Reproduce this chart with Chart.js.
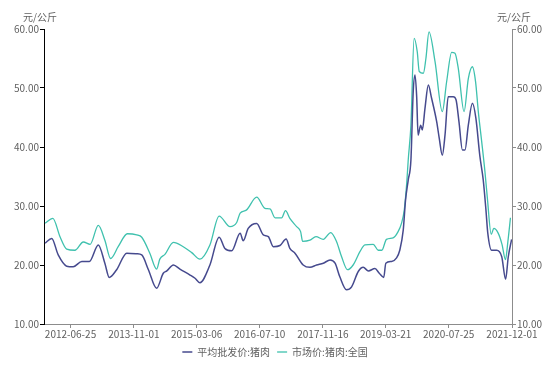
<!DOCTYPE html>
<html lang="zh">
  <head>
    <meta charset="UTF-8" />
    <title>猪肉价格</title>
    <style>
      body { margin: 0; background: #fff; }
    </style>
  </head>
  <body>
    <script src="https://cdn.jsdelivr.net/npm/chart.js"></script>
    <div class="chart" style="height: 367px; width: 550px">
      <canvas id="chart"></canvas>
    </div>

    <script>
      // 平均批发价:猪肉
      const wholesaleDates = [
        "2011-12-09", "2012-01-30", "2012-03-21", "2012-05-26", "2012-07-16", "2012-09-21",
        "2012-11-19", "2013-01-28", "2013-03-20", "2013-04-23", "2013-06-20", "2013-09-07",
        "2013-11-24", "2014-01-02", "2014-02-23", "2014-04-28", "2014-06-19", "2014-07-17",
        "2014-09-06", "2014-10-27", "2015-01-14", "2015-02-22", "2015-04-01", "2015-06-18",
        "2015-08-29", "2015-10-13", "2015-12-05", "2016-02-09", "2016-03-04", "2016-04-12",
        "2016-06-17", "2016-08-08", "2016-09-16", "2016-10-25", "2016-12-16", "2017-02-02",
        "2017-03-03", "2017-04-12", "2017-06-15", "2017-08-07", "2017-09-28", "2017-11-19",
        "2018-01-11", "2018-02-19", "2018-03-28", "2018-05-19", "2018-06-28", "2018-08-19",
        "2018-09-27", "2018-11-06", "2018-12-27", "2019-01-30", "2019-03-06", "2019-03-22",
        "2019-05-06", "2019-06-14", "2019-07-09", "2019-08-05", "2019-08-23", "2019-09-13",
        "2019-10-04", "2019-10-22", "2019-11-05", "2019-11-18", "2019-11-29", "2019-12-19",
        "2020-01-01", "2020-01-22", "2020-02-17", "2020-03-13", "2020-04-22", "2020-05-12",
        "2020-06-05", "2020-06-26", "2020-07-21", "2020-08-29", "2020-09-20", "2020-10-13",
        "2020-11-09", "2020-11-29", "2020-12-25", "2021-01-26", "2021-02-22", "2021-03-25",
        "2021-04-20", "2021-05-11", "2021-05-26", "2021-06-25", "2021-08-03", "2021-09-12",
        "2021-10-12", "2021-11-02", "2021-11-28",
      ];
      const wholesaleValues = [
        23.7, 24.5, 21.7, 19.8, 19.7, 20.6,
        20.6, 23.4, 20.3, 17.9, 19.2, 22.0,
        21.9, 21.7, 19.2, 16.05, 18.6, 19.0,
        20.0, 19.3, 18.3, 17.75, 17.0, 20.0,
        24.7, 22.8, 22.4, 25.4, 24.1, 26.2,
        27.05, 25.1, 24.8, 23.1, 23.3, 24.4,
        22.8, 22.0, 20.0, 19.6, 20.0, 20.3,
        20.85, 20.3, 18.0, 15.8, 16.3, 18.9,
        19.6, 19.0, 19.4, 18.6, 17.9, 20.3,
        20.6, 21.2, 22.5, 25.9, 31.0, 34.4,
        37.8, 49.4, 52.2, 48.5, 42.0, 43.7,
        42.9, 46.6, 50.5, 48.3, 44.3, 41.5,
        38.6, 42.0, 48.5, 48.5, 48.0, 44.3,
        39.5, 39.5, 43.7, 47.4, 44.9, 38.5,
        34.5, 29.5, 25.4, 22.5, 22.5, 21.4,
        17.6, 21.4, 24.35,
      ];

      // 市场价:猪肉:全国
      const marketDates = [
        "2011-12-09", "2012-02-08", "2012-04-04", "2012-05-26", "2012-07-29", "2012-10-03",
        "2012-11-25", "2013-01-28", "2013-03-20", "2013-05-04", "2013-07-02", "2013-09-12",
        "2013-11-24", "2014-01-02", "2014-03-06", "2014-04-28", "2014-05-23", "2014-07-02",
        "2014-09-06", "2014-11-22", "2015-01-27", "2015-04-01", "2015-06-18", "2015-08-29",
        "2015-11-22", "2016-01-13", "2016-02-09", "2016-03-28", "2016-06-17", "2016-08-21",
        "2016-09-29", "2016-11-08", "2016-12-29", "2017-01-28", "2017-03-03", "2017-04-25",
        "2017-05-26", "2017-06-11", "2017-08-07", "2017-09-23", "2017-11-19", "2018-01-16",
        "2018-03-02", "2018-04-11", "2018-05-27", "2018-07-10", "2018-09-02", "2018-10-10",
        "2018-12-14", "2019-01-22", "2019-02-19", "2019-03-27", "2019-05-18", "2019-06-26",
        "2019-07-23", "2019-08-13", "2019-09-01", "2019-09-13", "2019-10-04", "2019-10-29",
        "2019-11-22", "2019-12-08", "2020-01-09", "2020-01-29", "2020-02-22", "2020-04-09",
        "2020-06-05", "2020-07-09", "2020-08-17", "2020-09-12", "2020-10-08", "2020-11-22",
        "2020-12-25", "2021-01-26", "2021-02-20", "2021-03-13", "2021-04-08", "2021-05-03",
        "2021-05-22", "2021-06-22", "2021-07-12", "2021-08-15", "2021-09-14", "2021-10-11",
        "2021-10-30", "2021-11-19",
      ];
      const marketValues = [
        27.1, 27.9, 24.8, 22.7, 22.5, 23.9,
        23.5, 26.7, 24.2, 21.1, 23.1, 25.3,
        25.1, 24.7, 22.0, 19.3, 21.0, 21.8,
        23.85, 23.1, 22.1, 21.0, 23.4, 28.3,
        26.5, 27.2, 28.8, 29.3, 31.5, 29.6,
        29.5, 28.0, 28.0, 29.2, 27.9, 26.5,
        25.65, 24.0, 24.2, 24.8, 24.35, 25.5,
        24.0, 21.4, 19.2, 20.0, 22.3, 23.4,
        23.5, 22.5, 22.5, 24.35, 24.6, 25.65,
        27.1, 29.3, 33.8, 37.8, 43.7, 58.4,
        56.2, 52.8, 52.5, 55.0, 59.5, 54.5,
        46.0, 51.1, 56.05, 55.9, 53.3, 46.0,
        51.6, 53.6, 51.0, 46.0, 41.0, 36.0,
        31.5, 25.2, 26.2, 25.4, 23.5, 20.9,
        24.0, 28.0,
      ];

      const xTickDates = [
        "2012-06-25", "2013-11-01", "2015-03-06", "2016-07-10",
        "2017-11-16", "2019-03-21", "2020-07-25", "2021-12-01",
      ];
      const xStart = "2011-12-01";
      const xEnd = "2021-12-01";
      const yTicks = [10, 20, 30, 40, 50, 60];
      const unitLabel = "元/公斤";
      const seriesNames = ["平均批发价:猪肉", "市场价:猪肉:全国"];

      const dayOf = (s) =>
        Date.UTC(+s.slice(0, 4), +s.slice(5, 7) - 1, +s.slice(8, 10)) / 86400000;
      const dateOf = (d) => new Date(d * 86400000).toISOString().slice(0, 10);
      const toPoints = (dates, values) => dates.map((d, i) => ({ x: dayOf(d), y: values[i] }));

      const FONT = '"Noto Sans CJK SC", "Microsoft YaHei", sans-serif';
      const TEXT = "#5f5f5f";
      const navy = "#464a8e";
      const teal = "#3fc1ae";

      // 两侧坐标轴上方的单位
      const unitPlugin = {
        id: "unitLabels",
        afterDraw(chart) {
          const ctx = chart.ctx;
          ctx.save();
          ctx.font = "10px " + FONT;
          ctx.fillStyle = TEXT;
          ctx.textAlign = "center";
          ctx.textBaseline = "middle";
          ctx.fillText(unitLabel, 40, 17);
          ctx.fillText(unitLabel, 514, 17);
          ctx.restore();
        },
      };

      window.onload = () => {
        const yAxis = (position, lineColor, width) => ({
          type: "linear",
          position: position,
          min: yTicks[0],
          max: yTicks[yTicks.length - 1],
          afterBuildTicks: (axis) => {
            axis.ticks = yTicks.map((v) => ({ value: v }));
          },
          afterFit: (axis) => {
            axis.width = width;
          },
          border: { color: lineColor, width: 1 },
          grid: { drawOnChartArea: false, color: lineColor, tickLength: 4 },
          ticks: {
            padding: 1,
            color: TEXT,
            font: { family: FONT, size: 10 },
            callback: (v) => v.toFixed(2),
          },
        });

        new Chart(document.getElementById("chart"), {
          type: "line",
          data: {
            datasets: [
              {
                label: seriesNames[0],
                data: toPoints(wholesaleDates, wholesaleValues),
                borderColor: navy,
                backgroundColor: navy,
                borderWidth: 1.5,
                pointRadius: 0,
                cubicInterpolationMode: "monotone",
                yAxisID: "y",
              },
              {
                label: seriesNames[1],
                data: toPoints(marketDates, marketValues),
                borderColor: teal,
                backgroundColor: teal,
                borderWidth: 1.3,
                pointRadius: 0,
                cubicInterpolationMode: "monotone",
                yAxisID: "y",
              },
            ],
          },
          options: {
            animation: false,
            maintainAspectRatio: false,
            layout: { padding: { top: 29, left: 0, right: 0, bottom: 0 } },
            plugins: {
              legend: {
                position: "bottom",
                labels: {
                  usePointStyle: true,
                  pointStyle: "line",
                  pointStyleWidth: 10,
                  padding: 7,
                  color: TEXT,
                  font: { family: FONT, size: 10 },
                },
              },
              tooltip: { enabled: false },
            },
            scales: {
              x: {
                type: "linear",
                min: dayOf(xStart),
                max: dayOf(xEnd),
                afterBuildTicks: (axis) => {
                  axis.ticks = xTickDates.map((d) => ({ value: dayOf(d) }));
                },
                afterFit: (axis) => {
                  axis.height = 16;
                },
                border: { color: "#8c8c8c" },
                grid: { drawOnChartArea: false, color: "#8c8c8c", tickLength: 4 },
                ticks: {
                  padding: 0,
                  maxRotation: 0,
                  autoSkip: false,
                  color: TEXT,
                  font: { family: FONT, size: 10 },
                  callback: (v) => dateOf(v),
                },
              },
              y: yAxis("left", "#000000", 44),
              y2: yAxis("right", "#8c8c8c", 38),
            },
          },
          plugins: [unitPlugin],
        });
      };
    </script>
  </body>
</html>
